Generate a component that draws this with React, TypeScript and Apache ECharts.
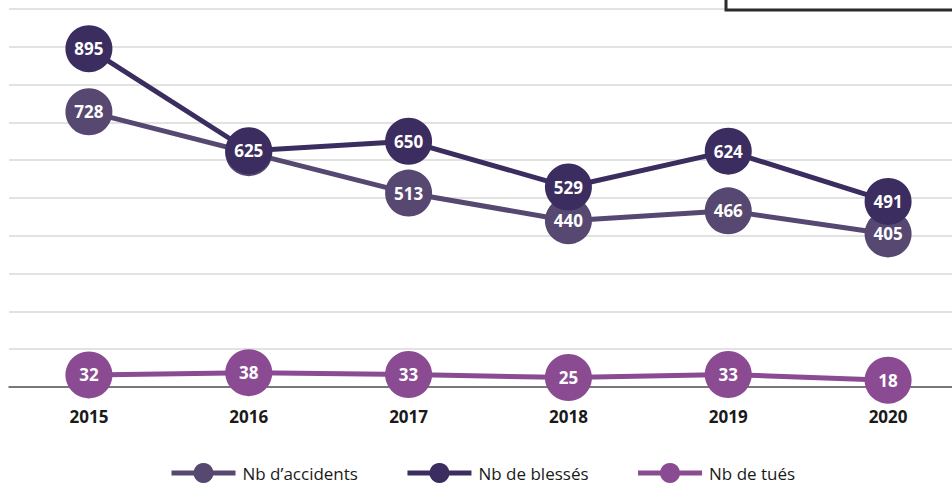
import React, { useEffect, useRef } from "react";
import * as echarts from "echarts";

const years = ["2015", "2016", "2017", "2018", "2019", "2020"];
const accidents = [728, 620, 513, 440, 466, 405];
const blesses = [895, 625, 650, 529, 624, 491];
const tues = [32, 38, 33, 25, 33, 18];
const seriesNames = ["Nb d\u2019accidents", "Nb de blessés", "Nb de tués"];
const colors = ["#564870", "#3b2d5f", "#8b4b93"];

const FONT = "'Open Sans', 'DejaVu Sans', sans-serif";

export default function App() {
  const ref = useRef<HTMLDivElement>(null);
  useEffect(() => {
    if (!ref.current) return;
    const chart = echarts.init(ref.current, null, { renderer: "svg" });
    const mk = (name: string, data: number[], color: string, z: number) => ({
      name,
      type: "line",
      data,
      z,
      symbol: "circle",
      symbolSize: 47,
      lineStyle: { color, width: 5 },
      itemStyle: { color },
      label: {
        show: true,
        position: "inside",
        color: "#ffffff",
        fontFamily: FONT,
        fontWeight: "bold",
        fontSize: 17,
      },
      emphasis: { disabled: true },
    });
    chart.setOption({
      animation: false,
      backgroundColor: "#ffffff",
      grid: { left: 9, right: 0, top: 9, height: 378, containLabel: false },
      xAxis: {
        type: "category",
        data: years,
        boundaryGap: true,
        axisLine: { show: true, lineStyle: { color: "#555555", width: 1.5 } },
        axisTick: { show: false },
        axisLabel: {
          color: "#1a1a1a",
          fontFamily: FONT,
          fontWeight: "bold",
          fontSize: 17,
          margin: 21,
        },
      },
      yAxis: {
        type: "value",
        min: 0,
        max: 1000,
        interval: 100,
        axisLabel: { show: false },
        axisLine: { show: false },
        axisTick: { show: false },
        splitLine: { lineStyle: { color: "#d9d9d9", width: 1.5 } },
      },
      legend: {
        left: 164,
        top: 458,
        itemWidth: 64,
        itemHeight: 25,
        itemGap: 47,
        data: seriesNames,
        itemStyle: { borderWidth: 0 },
        lineStyle: { width: 5 },
        textStyle: {
          color: "#1a1a1a",
          fontFamily: FONT,
          fontSize: 17,
          padding: [0, 0, 0, 2],
        },
      },
      graphic: [
        {
          type: "rect",
          shape: { x: 726, y: -10, width: 260, height: 20 },
          style: { fill: "#ffffff", stroke: "#2b2b2b", lineWidth: 3 },
          z: 100,
        },
      ],
      series: [
        mk(seriesNames[0], accidents, colors[0], 2),
        mk(seriesNames[1], blesses, colors[1], 3),
        mk(seriesNames[2], tues, colors[2], 4),
      ],
    });
    return () => chart.dispose();
  }, []);
  return (
    <div style={{ width: 952, height: 484, position: "absolute", left: 0, top: 0, overflow: "hidden", background: "#fff" }}>
      <div ref={ref} style={{ width: 968, height: 484 }} />
    </div>
  );
}
